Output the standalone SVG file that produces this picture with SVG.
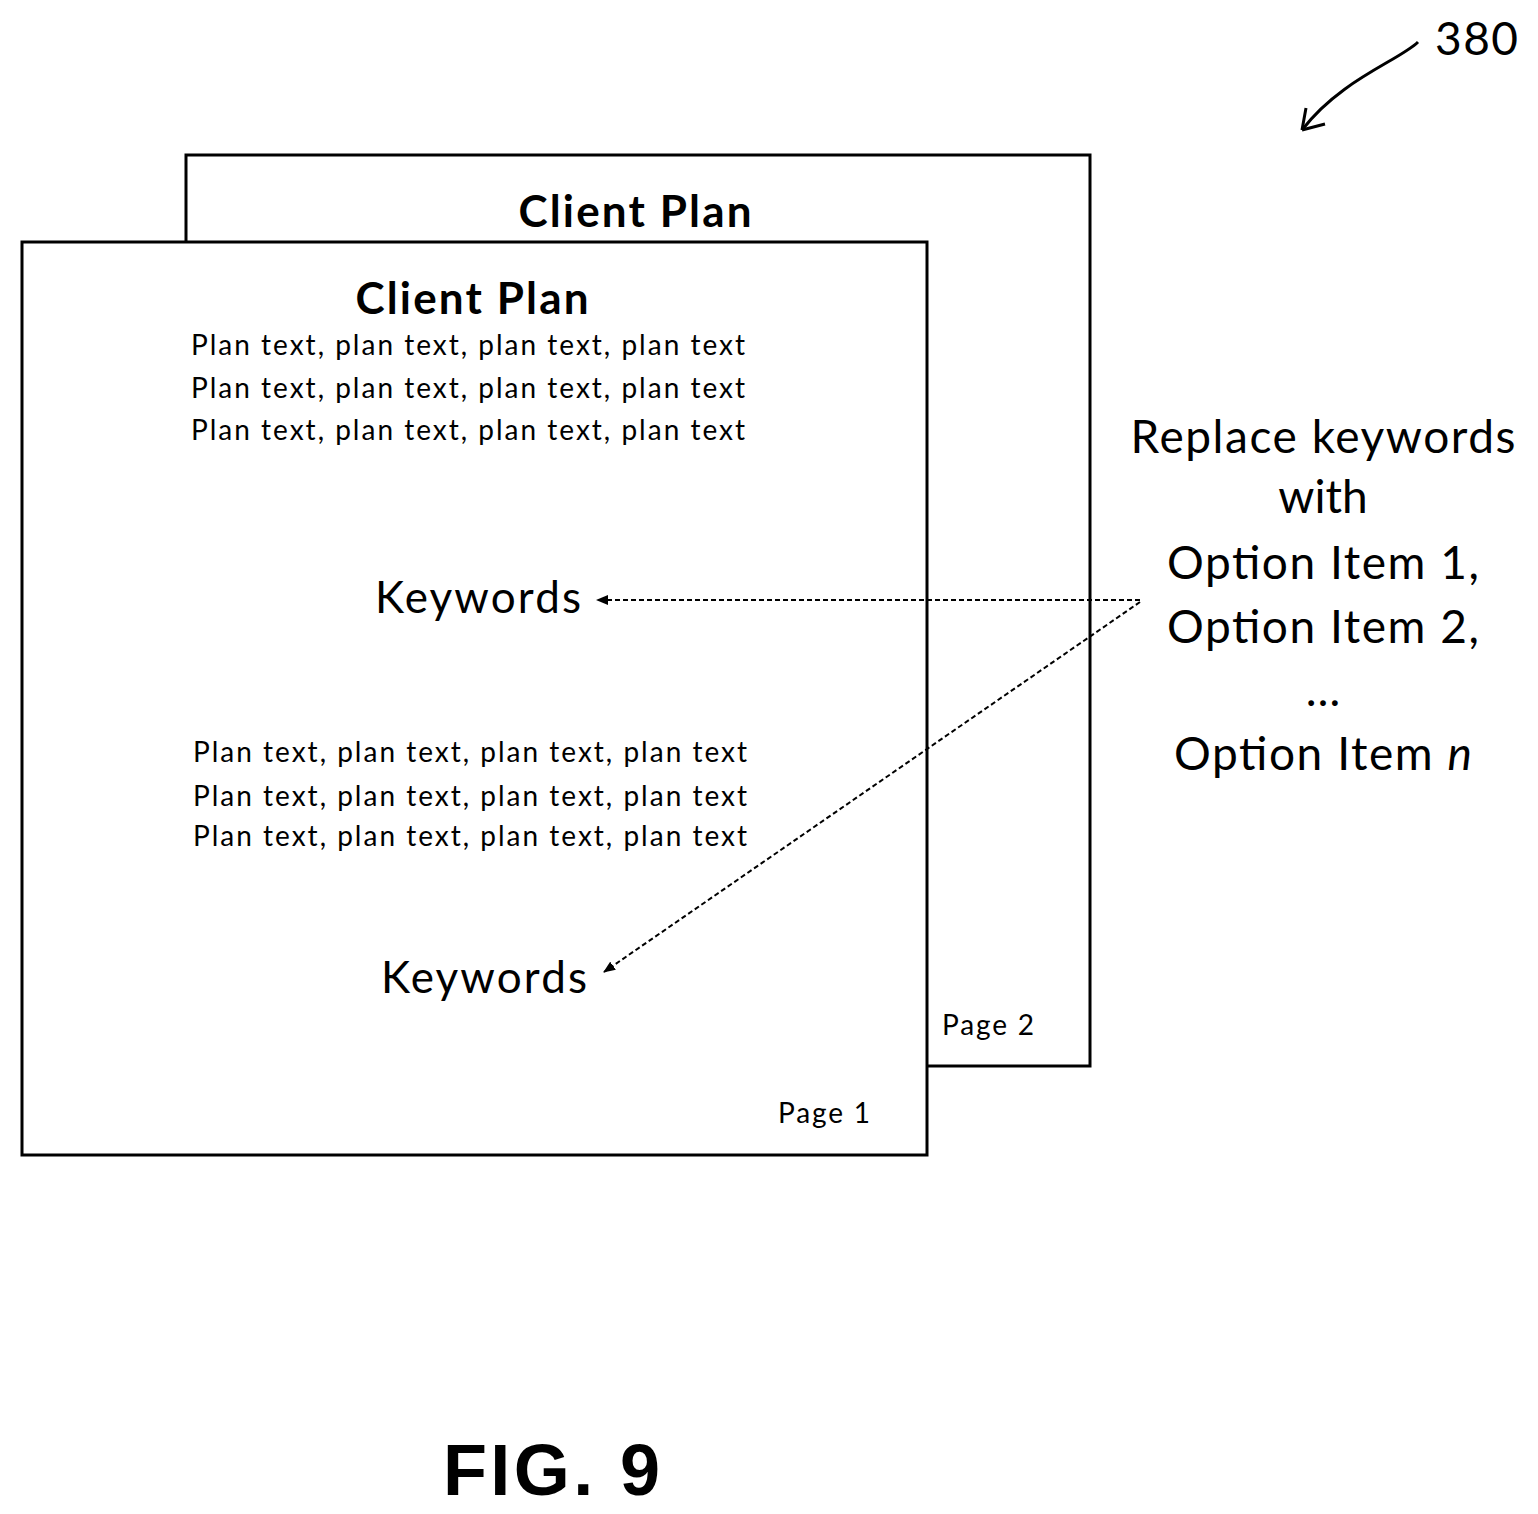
<svg xmlns="http://www.w3.org/2000/svg" width="1538" height="1514" viewBox="0 0 1538 1514">
<style>
.pg{fill:#fff;stroke:#000;stroke-width:3}
text{font-family:Lato,"Open Sans",sans-serif;fill:#000}
.t{font-size:44px;font-weight:bold;text-anchor:middle}
.p{font-size:28px}
.k{font-size:44px}
.r{font-size:46px;text-anchor:middle}
.c{fill:none;stroke:#000;stroke-width:2;stroke-dasharray:5,3}
text.fig{font-family:"Liberation Sans",Arial,sans-serif;font-weight:bold;font-size:72px}
</style>
<defs><marker id="a" markerWidth="12" markerHeight="10" refX="11" refY="5" orient="auto" markerUnits="userSpaceOnUse"><path d="M0,0L12,5L0,10z"/></marker></defs>
<g id="page2"><rect class="pg" x="186" y="155" width="904" height="911"/>
<text class="t" x="635" y="227" textLength="233">Client Plan</text>
<text class="p" x="942" y="1035" textLength="92">Page 2</text></g>
<g id="page1"><rect class="pg" x="22" y="242" width="905" height="913"/>
<text class="t" x="472" y="314" textLength="233">Client Plan</text>
<text class="p" x="191" y="355" textLength="554">Plan text, plan text, plan text, plan text</text>
<text class="p" x="191" y="398" textLength="554">Plan text, plan text, plan text, plan text</text>
<text class="p" x="191" y="440" textLength="554">Plan text, plan text, plan text, plan text</text>
<text class="k" x="375" y="613" textLength="206">Keywords</text>
<text class="p" x="193" y="762" textLength="554">Plan text, plan text, plan text, plan text</text>
<text class="p" x="193" y="806" textLength="554">Plan text, plan text, plan text, plan text</text>
<text class="p" x="193" y="846" textLength="554">Plan text, plan text, plan text, plan text</text>
<text class="k" x="381" y="993" textLength="206">Keywords</text>
<text class="p" x="778" y="1123" textLength="92">Page 1</text></g>
<g id="replace">
<text class="r" x="1323" y="453" textLength="385">Replace keywords</text>
<text class="r" x="1323" y="513">with</text>
<text class="r" x="1323" y="579" textLength="312">Option Item 1,</text>
<text class="r" x="1323" y="643" textLength="312">Option Item 2,</text>
<text class="r" x="1323" y="706">…</text>
<text class="r" x="1323" y="770" textLength="298">Option Item <tspan font-style="italic">n</tspan></text></g>
<g id="connectors">
<line class="c" x1="1140" y1="600" x2="597" y2="600" marker-end="url(#a)"/>
<line class="c" x1="1140" y1="602" x2="604" y2="972" marker-end="url(#a)"/>
<path d="M1418,42 C1400,60 1340,80 1302,130" fill="none" stroke="#000" stroke-width="3"/>
<path d="M1302,130 L1306,108 M1302,130 L1325,124" fill="none" stroke="#000" stroke-width="3"/>
</g>
<text x="1435" y="55" font-size="46" textLength="83">380</text>
<text class="fig" x="443" y="1495" textLength="217">FIG. 9</text>
</svg>
